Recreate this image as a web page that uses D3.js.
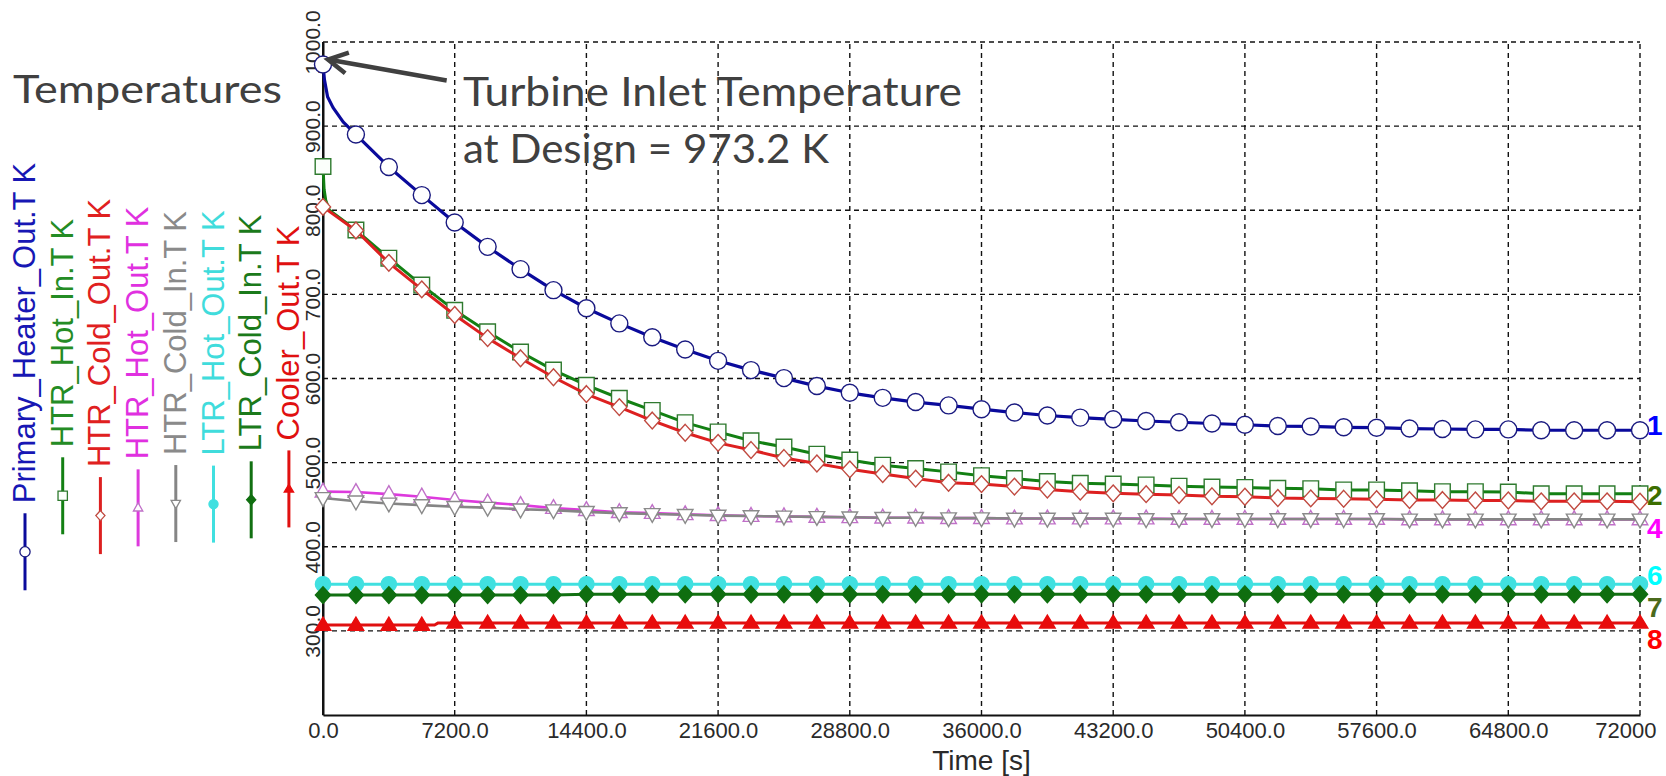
<!DOCTYPE html>
<html><head><meta charset="utf-8">
<script src="https://cdn.jsdelivr.net/npm/d3@7/dist/d3.min.js"></script>
<style>html,body{margin:0;padding:0;background:#fff;overflow:hidden}</style>
</head><body>
<svg id="chart" width="1666" height="776"></svg>
<script>
// ---------------- DATA ----------------
const markerTimes = d3.range(0, 72001, 1800);   // sample instants [s]

const seriesNames = ["Primary_Heater_Out.T K","HTR_Hot_In.T K","HTR_Cold_Out.T K","HTR_Hot_Out.T K",
                     "HTR_Cold_In.T K","LTR_Hot_Out.T K","LTR_Cold_In.T K","Cooler_Out.T K"];

const primaryHeaterOut = [973.2,890,851.5,818,785.5,756.5,730,705,683.5,665.5,649,634.5,621,610,600.5,591,583,577,572,568,
  563.5,559.5,556,553.5,551.5,549.5,548,546.5,545,543.5,543,542,541.5,540.5,540,539.5,539.5,538.5,538.5,538.5,538.5];
const htrHotIn = [852,776.5,743,711,681,655.5,631.5,610,592,576.5,562,547.5,536.5,526,518.5,510,503,497,493,489,
  484.5,481,477.5,475.5,474.5,473.5,472,471,470.5,469.5,469,467.5,467.5,466.5,465.5,465.5,465,463,463,463,463];
const htrColdOut = [804,776,737.5,706,675.5,648,624,601.5,581.5,566,550,535.5,523.5,515,505.5,499,492,486.5,481,476,
  474.5,471.5,468,465.5,463.5,462.5,461.5,460,459.5,458,457.5,457,456.5,455.5,455.5,455,455,454,454,454,453.5];
const htrHotOut = [465.5,465,462.5,459.5,455.5,452.5,449.5,446,443.5,441,440,438.5,437.5,436.5,436,435.5,435,434.5,434.5,434,
  434,433.5,433.5,433.5,433.5,433.5,433,433,433,433,433,433,433,432.5,432.5,432.5,432.5,432.5,432.5,432.5,432.5];
const htrColdIn = [458,454,451.5,449.5,447.5,446.5,444.5,443.5,441.5,440,439,438,437,436.5,436,435.5,435,434.5,434.5,434,
  434,433.5,433.5,433.5,433.5,433,433,433,433,433,433,433,433,432.5,432.5,432.5,432.5,432.5,432.5,432.5,432.5];
const ltrHotOut = [355.5,355.5,355.5,355.5,355.5,355.5,355.5,355.5,355.5,355.5,355.5,355.5,355.5,355.5,355.5,355.5,355.5,355.5,355.5,355.5,
  355.5,355.5,355.5,355.5,355.5,355.5,355.5,355.5,355.5,355.5,355.5,355.5,355.5,355.5,355.5,355.5,355.5,355.5,355.5,355.5,355.5];
const ltrColdIn = [342.5,342.5,342.5,342.5,342.5,342.5,342.5,342.5,343.5,343.5,343.5,343.5,343.5,343.5,343.5,343.5,343.5,343.5,343.5,343.5,
  343.5,343.5,343.5,343.5,343.5,343.5,343.5,343.5,343.5,343.5,343.5,343.5,343.5,343.5,343.5,343.5,343.5,343.5,343.5,343.5,343.5];
const coolerOut = [307,307,307,307,309.5,309.5,309.5,309.5,309.5,309.5,309.5,309.5,309.5,309.5,309.5,309.5,309.5,309.5,309.5,309.5,
  309.5,309.5,309.5,309.5,309.5,309.5,309.5,309.5,309.5,309.5,309.5,309.5,309.5,309.5,309.5,309.5,309.5,309.5,309.5,309.5,309.5];

const primaryEarly = [[80,955],[250,935],[550,922],[1100,905]];
const htrHotInEarly = [[60,825],[150,812],[350,800]];
const coolerStep = [[6100,307],[6300,309.5]];

const xTicks = [0,7200,14400,21600,28800,36000,43200,50400,57600,64800,72000];
const xTickLabels = ["0.0","7200.0","14400.0","21600.0","28800.0","36000.0","43200.0","50400.0","57600.0","64800.0","72000"];
const yTicks = [300,400,500,600,700,800,900,1000];
const yTickLabels = ["300.0","400.0","500.0","600.0","700.0","800.0","900.0","1000.0"];

const endLabels = ["1","2","4","6","7","8"];
const endLabelValues = [544.6,462,422.5,367,329,291];
const endLabelColors = ["#0000ff","#3c6e00","#ff00ff","#00ffff","#4b6a1c","#ff0000"];

// ---------------- STYLE ----------------
const W = 1666, H = 776;
const svg = d3.select("#chart");
svg.append("rect").attr("width",W).attr("height",H).attr("fill","#fff");

const x = d3.scaleLinear().domain([0,72000]).range([323,1640]);
const y = d3.scaleLinear().domain([200,1000]).range([715,42]);

const styles = [
  {data:primaryHeaterOut, early:primaryEarly, color:"#0a0a9c", text:"#1717b4", marker:"circle", fill:"#fff", mstroke:"#1a1a80", lw:3.2},
  {data:htrHotIn, early:htrHotInEarly, color:"#138013", text:"#248c24", marker:"square", fill:"#fbfffb", mstroke:"#2e7a2e", lw:3},
  {data:htrColdOut, early:[], color:"#dd2020", text:"#e02020", marker:"diamond", fill:"#fff", mstroke:"#c04a40", lw:3},
  {data:htrHotOut, early:[], color:"#dd3add", text:"#e030e0", marker:"triUp", fill:"#fff", mstroke:"#c070c8", lw:2.6},
  {data:htrColdIn, early:[], color:"#858585", text:"#8a8a8a", marker:"triDown", fill:"#fff", mstroke:"#8a8a8a", lw:2.6},
  {data:ltrHotOut, early:[], color:"#40e0e0", text:"#40dcdc", marker:"dot", fill:"#40e0e0", mstroke:"#40e0e0", lw:3},
  {data:ltrColdIn, early:[], color:"#127012", text:"#1b7a1b", marker:"fdiamond", fill:"#0f6e0f", mstroke:"#0f6e0f", lw:3},
  {data:coolerOut, early:coolerStep, color:"#e01010", text:"#e01010", marker:"ftri", fill:"#e80c0c", mstroke:"#e80c0c", lw:3}
];

function markerPath(type, s){ // s = scale factor
  switch(type){
    case "circle": case "dot": { const r = (type==="dot"?7.6:8.5)*s;
      return `M${-r},0A${r},${r} 0 1,0 ${r},0A${r},${r} 0 1,0 ${-r},0Z`; }
    case "square": { const a = 7.8*s; return `M${-a},${-a}H${a}V${a}H${-a}Z`; }
    case "diamond": case "fdiamond": { const w = 7.6*s, h = 8.4*s; return `M0,${-h}L${w},0L0,${h}L${-w},0Z`; }
    case "triUp": { const w = 7.8*s; return `M0,${-8.5*s}L${w},${5.3*s}L${-w},${5.3*s}Z`; }
    case "triDown": { const w = 7.8*s; return `M0,${8.5*s}L${w},${-5.3*s}L${-w},${-5.3*s}Z`; }
    case "ftri": { const w = 7.8*s; return `M0,${-7.8*s}L${w},${5.2*s}L${-w},${5.2*s}Z`; }
  }
}

// ---------------- GRID ----------------
const grid = svg.append("g");
grid.selectAll("line.v").data(xTicks.slice(1)).join("line")
  .attr("x1",d=>x(d)).attr("x2",d=>x(d)).attr("y1",y(200)).attr("y2",y(1000))
  .attr("stroke","#111").attr("stroke-width",1.4).attr("stroke-dasharray","5,4");
grid.selectAll("line.h").data(yTicks).join("line")
  .attr("x1",x(0)).attr("x2",x(72000)).attr("y1",d=>y(d)).attr("y2",d=>y(d))
  .attr("stroke","#111").attr("stroke-width",1.4).attr("stroke-dasharray","5,4");

// ---------------- AXES ----------------
const xAxis = svg.append("g").attr("transform",`translate(0,${y(200)})`)
  .call(d3.axisBottom(x).tickValues(xTicks).tickSize(0).tickSizeOuter(0).tickPadding(7)
        .tickFormat((d,i)=>xTickLabels[i]));
xAxis.select(".domain").attr("stroke","#111").attr("stroke-width",2);
xAxis.selectAll("text").attr("font-family","'Liberation Sans', Arial, sans-serif")
  .attr("font-size",22).attr("fill","#2a2a2a");
xAxis.selectAll(".tick").filter(d=>d===72000).select("text").attr("text-anchor","end").attr("x",16);

const yAxis = svg.append("g").attr("transform",`translate(${x(0)},0)`)
  .call(d3.axisLeft(y).tickValues(yTicks).tickSize(0).tickSizeOuter(0).tickFormat((d,i)=>yTickLabels[i]));
yAxis.select(".domain").attr("stroke","#111").attr("stroke-width",2);
yAxis.selectAll("text").attr("font-family","'Liberation Sans', Arial, sans-serif")
  .attr("font-size",21).attr("fill","#2a2a2a")
  .attr("transform","rotate(-90)").attr("x",0).attr("y",-3).attr("dy",0).attr("text-anchor","middle");
svg.append("line").attr("x1",x(0)).attr("x2",x(0)).attr("y1",y(200)).attr("y2",y(1000))
  .attr("stroke","#111").attr("stroke-width",2);

svg.append("text").attr("x",(x(0)+x(72000))/2).attr("y",770).attr("text-anchor","middle")
  .attr("font-family","'Liberation Sans', Arial, sans-serif").attr("font-size",28).attr("fill","#2a2a2a")
  .text("Time [s]");

// ---------------- SERIES ----------------
const line = d3.line().x(d=>x(d[0])).y(d=>y(d[1]));
const plot = svg.append("g");
styles.forEach((s)=>{
  const pts = markerTimes.map((t,i)=>[t,s.data[i]]).concat(s.early).sort((a,b)=>a[0]-b[0]);
  plot.append("path").attr("d",line(pts)).attr("fill","none").attr("stroke",s.color)
    .attr("stroke-width",s.lw).attr("stroke-linejoin","round");
  plot.append("g").selectAll("path").data(markerTimes.map((t,i)=>[t,s.data[i]])).join("path")
    .attr("transform",d=>`translate(${x(d[0])},${y(d[1])})`)
    .attr("d",markerPath(s.marker,1)).attr("fill",s.fill).attr("stroke",s.mstroke).attr("stroke-width",1.4);
});

// ---------------- END LABELS ----------------
svg.append("g").selectAll("text").data(endLabels).join("text")
  .attr("x",1647).attr("y",(d,i)=>y(endLabelValues[i])).attr("dy","0.36em")
  .attr("font-family","'Liberation Sans', Arial, sans-serif").attr("font-weight","bold").attr("font-size",28)
  .attr("fill",(d,i)=>endLabelColors[i]).text(d=>d);

// ---------------- LEGEND (rotated) ----------------
const legend = svg.append("g");
const legendCenterY = 376.5, legendX0 = 25, legendDX = 37.7, segLen = 77, gap = 10;
styles.forEach((s,i)=>{
  const lx = legendX0 + i*legendDX;
  const g = legend.append("g");
  const t = g.append("text").attr("font-family","'Liberation Sans', Arial, sans-serif").attr("font-size",31)
    .attr("fill",s.text).text(seriesNames[i]);
  const L = t.node().getComputedTextLength();
  const B = legendCenterY + (segLen + gap + L)/2;
  t.attr("transform",`translate(${lx+10},${B-segLen-gap}) rotate(-90)`);
  g.append("line").attr("x1",lx).attr("x2",lx).attr("y1",B).attr("y2",B-segLen)
    .attr("stroke",s.color).attr("stroke-width",3);
  g.append("path").attr("transform",`translate(${lx},${B-segLen/2})`).attr("d",markerPath(s.marker,0.6))
    .attr("fill",s.fill).attr("stroke",s.mstroke).attr("stroke-width",1.3);
});

// ---------------- ANNOTATIONS ----------------
const annFont = "Lato, 'Open Sans', sans-serif";
svg.append("text").attr("x",13).attr("y",103).attr("font-family",annFont).attr("font-size",38)
  .attr("fill","#404040").attr("textLength",269).attr("lengthAdjust","spacingAndGlyphs").text("Temperatures");
svg.append("text").attr("x",463).attr("y",106).attr("font-family",annFont).attr("font-size",40)
  .attr("fill","#404040").attr("textLength",499).attr("lengthAdjust","spacingAndGlyphs").text("Turbine Inlet Temperature");
svg.append("text").attr("x",463).attr("y",162.7).attr("font-family",annFont).attr("font-size",40)
  .attr("fill","#404040").attr("textLength",366).attr("lengthAdjust","spacingAndGlyphs").text("at Design = 973.2 K");

// arrow pointing at the design turbine inlet temperature (t = 0)
const tip = [x(0)+5, y(973.2)-5], start = [x(7200)-8, y(973.2)+16];
const ang = Math.atan2(start[1]-tip[1], start[0]-tip[0]);
const armL = 22, spread = 0.5;
const a1 = [tip[0]+armL*Math.cos(ang+spread), tip[1]+armL*Math.sin(ang+spread)];
const a2 = [tip[0]+armL*Math.cos(ang-spread), tip[1]+armL*Math.sin(ang-spread)];
svg.append("path").attr("d",`M${start[0]},${start[1]}L${tip[0]},${tip[1]}`)
  .attr("stroke","#404040").attr("stroke-width",4.5).attr("fill","none");
svg.append("path").attr("d",`M${a1[0]},${a1[1]}L${tip[0]},${tip[1]}L${a2[0]},${a2[1]}`)
  .attr("stroke","#404040").attr("stroke-width",4.5).attr("fill","none").attr("stroke-linejoin","miter");
</script>
</body></html>
